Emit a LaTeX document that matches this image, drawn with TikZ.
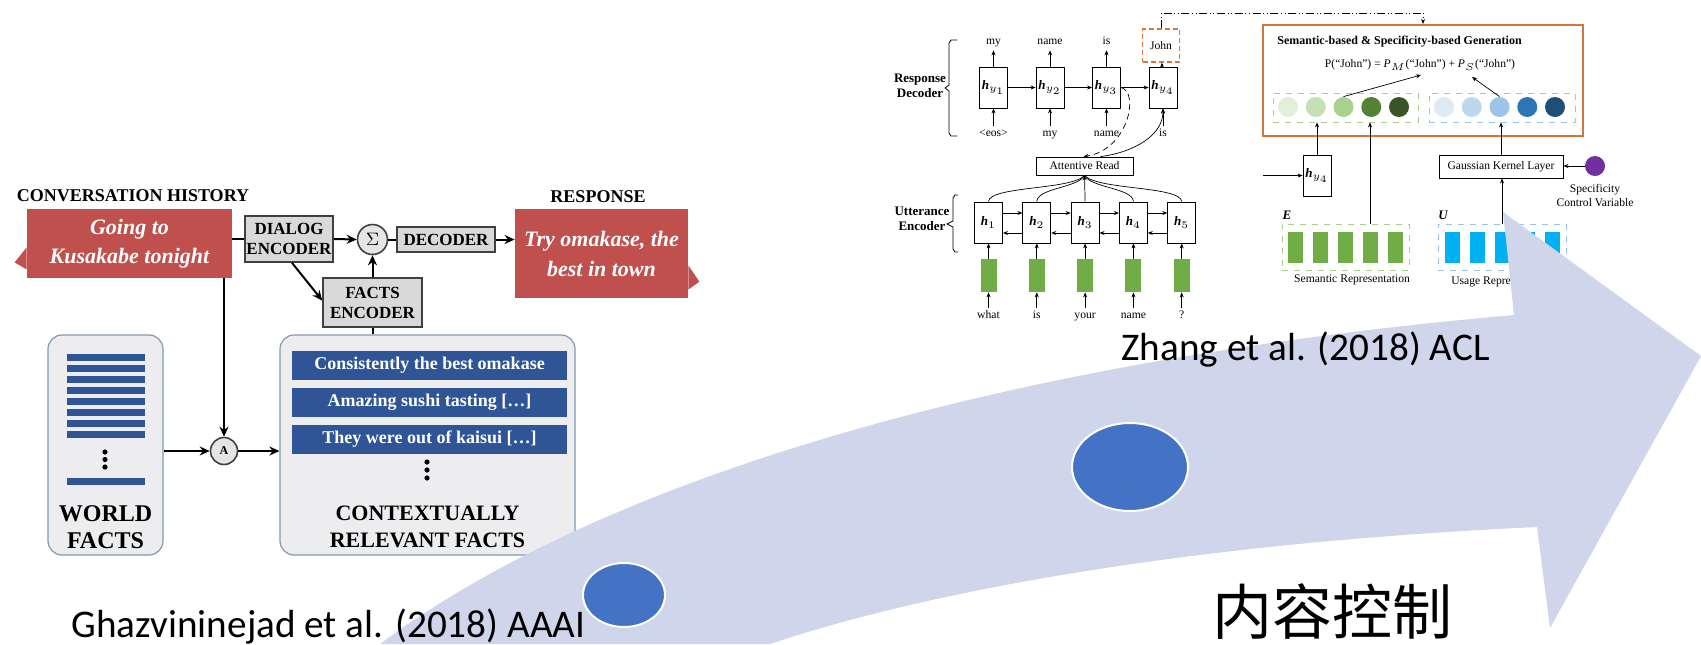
\documentclass[tikz,border=0pt]{standalone}
\usepackage{fontspec}
\setmainfont{Liberation Serif}
\newfontfamily\cjkfont{Noto Sans CJK SC}
\newfontfamily\slidefont{Carlito}
\usetikzlibrary{positioning}
\usetikzlibrary{arrows.meta}
\usetikzlibrary{calc}
\usetikzlibrary{shapes.geometric}

\definecolor{calloutred}{RGB}{192,80,77}
\definecolor{factblue}{RGB}{47,85,151}
\definecolor{panelgray}{RGB}{237,237,240}
\definecolor{panelline}{RGB}{132,151,176}
\definecolor{genorange}{RGB}{210,120,60}
\definecolor{embgreen}{RGB}{112,173,71}
\definecolor{embblue}{RGB}{0,176,240}
\definecolor{arrowlav}{RGB}{207,213,234}
\definecolor{dotblue}{RGB}{68,114,196}
\definecolor{ctrlpurple}{RGB}{112,48,160}
\definecolor{gA}{RGB}{226,239,218}
\definecolor{gB}{RGB}{197,224,180}
\definecolor{gC}{RGB}{169,209,142}
\definecolor{gD}{RGB}{84,130,53}
\definecolor{gE}{RGB}{55,86,35}
\definecolor{bA}{RGB}{222,235,247}
\definecolor{bB}{RGB}{189,215,238}
\definecolor{bC}{RGB}{157,195,230}
\definecolor{bD}{RGB}{46,117,182}
\definecolor{bE}{RGB}{31,78,121}

\begin{document}
\begin{tikzpicture}
  [x=0.5pt, y=-0.5pt,
   every node/.style={inner sep=0pt},
   head/.style={font=\bfseries\fontsize{9}{10}\selectfont},
   callout/.style={fill=calloutred,text=white,align=center},
   grayblock/.style={draw=black!75,line width=0.8pt,fill=black!15,align=center,
                     font=\bfseries\fontsize{8.5}{10}\selectfont},
   opcirc/.style={circle,draw=black!75,line width=0.8pt,fill=black!10,minimum size=15pt},
   panel/.style={draw=panelline,fill=panelgray,rounded corners=7pt,line width=0.6pt},
   factbar/.style={fill=factblue,text=white,font=\bfseries\fontsize{9}{10}\selectfont,
                   minimum width=137.5pt,minimum height=14.5pt},
   wbar/.style={fill=factblue,minimum width=39pt,minimum height=3.5pt},
   flow/.style={line width=1pt,-{Stealth[length=5pt,width=4.5pt]}},
   link/.style={line width=1pt},
   wordlbl/.style={font=\fontsize{5.8}{6.8}\selectfont},
   tok/.style={wordlbl,text height=4.2pt,text depth=1.3pt,inner sep=1.2pt},
   cell/.style={draw,line width=0.4pt,minimum width=14pt,minimum height=20.5pt,
                font=\fontsize{6.5}{7}\selectfont},
   wire/.style={line width=0.35pt,-{Stealth[length=2.5pt,width=2pt]}},
   feed/.style={line width=0.35pt},
   slide/.style={font=\slidefont\fontsize{19.6}{24}\selectfont}]

  \useasboundingbox (0,0) rectangle (1701,644);

  % ---- Ghazvininejad et al.
  \node[head] (histhead) at (133,196) {CONVERSATION HISTORY};
  \node[callout,minimum width=102.5pt,minimum height=34.5pt,
        font=\bfseries\itshape\fontsize{11}{14.5}\selectfont] (convo) at (129.5,243.5)
        {Going to\\Kusakabe tonight};
  \fill[calloutred] ($(convo.south west)+(0,-31)$) -- ($(convo.south west)+(-12,-16)$)
        -- ($(convo.south west)+(0,-9)$) -- cycle;
  \node[grayblock,minimum width=44pt,minimum height=23pt] (dialogenc) at (289,239)
        {DIALOG\\ENCODER};
  \node[opcirc,font=\fontsize{9}{9}\selectfont] (sigma) at (372.5,239.5) {$\Sigma$};
  \node[grayblock,minimum width=49pt,minimum height=12.5pt] (decoder) at (446,239.5) {DECODER};
  \node[head] (resphead) at (598,197) {RESPONSE};
  \node[callout,minimum width=86.5pt,minimum height=44.5pt,
        font=\bfseries\itshape\fontsize{11}{15}\selectfont] (response) at (601.5,253.5)
        {Try omakase, the\\best in town};
  \fill[calloutred] ($(response.north east)+(0,57)$) -- ($(response.north east)+(11,73)$)
        -- ($(response.north east)+(0,81)$) -- cycle;
  \node[grayblock,minimum width=49.5pt,minimum height=24.5pt] (factsenc) at (372.5,302.5)
        {FACTS\\ENCODER};

  \node[panel,minimum width=57.5pt,minimum height=110pt] (world) at (105.5,445) {};
  \node[panel,minimum width=147.5pt,minimum height=110pt] (context) at (427.5,445) {};
  \foreach \i in {0,...,7}
    \node[wbar] (wb\i) at (106,357.5+11*\i) {};
  \node[wbar] (wblast) at (106,481) {};
  \foreach \j in {0,1,2} {
    \fill (105,452+7.5*\j) circle (1.3pt);
    \fill (427,462+8*\j) circle (1.3pt);
  }
  \node[font=\bfseries\fontsize{12}{13.5}\selectfont,align=center] (worldlbl) at (105.5,527)
        {WORLD\\FACTS};
  \node[factbar] (fact1) at (429.5,365.5) {Consistently the best omakase};
  \node[factbar] (fact2) at (429.5,402) {Amazing sushi tasting [\dots]};
  \node[factbar] (fact3) at (429.5,439) {They were out of kaisui [\dots]};
  \node[font=\bfseries\fontsize{11}{13.5}\selectfont,align=center] (ctxlbl) at (427.5,527)
        {CONTEXTUALLY\\RELEVANT FACTS};
  \node[opcirc,minimum size=13.5pt,font=\bfseries\fontsize{6}{6}\selectfont] (acirc) at (224,451) {A};

  \draw[link] (convo.east |- dialogenc.west) -- (dialogenc.west);
  \draw[flow] (convo.south -| acirc.north) -- (acirc.north);
  \draw[flow] (dialogenc.east) -- (sigma.west);
  \draw[link] (sigma) -- (decoder);
  \draw[flow] (decoder.east) -- (decoder.east -| response.west);
  \draw[flow] ($(dialogenc.south)+(3,0)$) -- ($(factsenc.west)+(0,-2)$);
  \draw[flow] (factsenc) -- (sigma);
  \draw[link] (factsenc.south) -- (factsenc.south |- context.north);
  \draw[flow] (world.east |- acirc) -- (acirc.west);
  \draw[flow] (acirc.east) -- (acirc.east -| context.west);

  % ---- Zhang et al.: encoder / decoder
  \node[font=\bfseries\fontsize{6.5}{7.5}\selectfont,align=center] (declbl) at (920,85.5)
        {Response\\Decoder};
  \node[font=\bfseries\fontsize{6.5}{7.5}\selectfont,align=center] (enclbl) at (922,218.5)
        {Utterance\\Encoder};
  \draw[line width=0.4pt] (957,40) -- (951,40) -- (949,43) -- (949,85) -- (945,88)
        -- (949,91) -- (949,133) -- (951,136) -- (957,136);
  \draw[line width=0.4pt] (958,195) -- (955,195) -- (953,198) -- (953,221) -- (947,224)
        -- (953,227) -- (953,249) -- (955,252) -- (958,252);

  \foreach \i/\dn in {1/{\textless eos\textgreater},2/my,3/name,4/is} {
    \node[cell] (hy\i) at ({993.5+56.5*(\i-1)},87.5) {\textbf{\textit{h}}$_{y_{\i}}$};
    \node[tok] (in\i) at ({993.5+56.5*(\i-1)},134) {\dn};
    \draw[wire] (in\i) -- (hy\i);
  }
  \foreach \i/\up in {1/my,2/name,3/is} {
    \node[tok] (out\i) at ({993.5+56.5*(\i-1)},42) {\up};
    \draw[wire] (hy\i) -- (out\i);
  }
  \node[draw=genorange,dash pattern=on 2.5pt off 1.5pt,line width=0.7pt,minimum width=18.5pt,
        minimum height=16.5pt,wordlbl] (john) at (1161,45.5) {John};
  \draw[wire] (hy4) -- (john);
  \foreach \i/\j in {1/2,2/3,3/4}
    \draw[wire] (hy\i) -- (hy\j);

  \node[draw,line width=0.4pt,minimum width=48.5pt,minimum height=9pt,wordlbl] (attread)
        at (1084.5,166) {Attentive Read};
  \draw[wire,densely dashed] (hy3.east) .. controls (1140,92) and (1128,150)
        .. ($(attread.north)+(-1,0)$);
  \draw[wire] ($(attread.north)+(16,0)$) .. controls (1135,152) and (1163,135) .. (hy4.south);

  \foreach \i/\w in {1/what,2/is,3/your,4/name,5/?} {
    \node[cell] (h\i) at ({988.5+48.3*(\i-1)},222.5) {\textbf{\textit{h}}$_{\i}$};
    \node[fill=embgreen,minimum width=8pt,minimum height=16.5pt] (x\i)
          at ({988.5+48.3*(\i-1)},275.5) {};
    \node[tok] (w\i) at ({988.5+48.3*(\i-1)},316) {\w};
    \draw[wire] (w\i) -- (x\i);
    \draw[wire] (x\i) -- (h\i);
  }
  \foreach \i/\j in {1/2,2/3,3/4,4/5} {
    \draw[wire] ([yshift=4.75pt]h\i.east) -- ([yshift=4.75pt]h\j.west);
    \draw[wire] ([yshift=-5.25pt]h\j.west) -- ([yshift=-5.25pt]h\i.east);
  }
  \draw[feed] (h1.north) .. controls (989,186) and (1072,190) .. (attread.south);
  \draw[feed] (h2.north) .. controls (1037,188) and (1078,188) .. (attread.south);
  \draw[wire] (h3.north) -- (attread.south);
  \draw[feed] (h4.north) .. controls (1133,188) and (1091,188) .. (attread.south);
  \draw[feed] (h5.north) .. controls (1181,186) and (1097,190) .. (attread.south);

  % ---- Zhang et al.: generation
  \node[draw=genorange,line width=1pt,minimum width=160pt,minimum height=55.5pt] (gen)
        at (1423,80.5) {};
  \node[anchor=west,font=\bfseries\fontsize{6}{7}\selectfont] (gentitle) at (1277,42)
        {Semantic-based \& Specificity-based Generation};
  \node[wordlbl] (formula) at (1420,65)
        {P(“John”) = \textit{P}$_{M}$(“John”) + \textit{P}$_{S}$(“John”)};
  \node[draw=gC,dashed,line width=0.4pt,minimum width=72.5pt,minimum height=14.5pt] (semprob)
        at (1345.5,107.5) {};
  \node[draw=bC,dashed,line width=0.4pt,minimum width=73pt,minimum height=14.5pt] (spcprob)
        at (1502,107.5) {};
  \foreach \c [count=\k] in {gA,gB,gC,gD,gE}
    \node[circle,fill=\c,minimum size=10pt] (gc\k) at ({1288+27.75*(\k-1)},107) {};
  \foreach \c [count=\k] in {bA,bB,bC,bD,bE}
    \node[circle,fill=\c,minimum size=10pt] (bc\k) at ({1444+27.75*(\k-1)},107) {};
  \coordinate (pmpt) at (1421,75);
  \coordinate (pspt) at (1472,77);
  \draw[wire] (gc3.north) -- (pmpt);
  \draw[wire] (bc3.north) -- (pspt);
  \coordinate (relay) at (1423,13);
  \draw[line width=0.5pt,dash pattern=on 4pt off 1.3pt on 0.5pt off 1.3pt on 0.5pt off 1.3pt,
        -{Stealth[length=2.5pt,width=2pt]}]
        (john.north) |- (relay) -- (gen.north);

  \node[cell] (hyb) at (1317,175.5) {\textbf{\textit{h}}$_{y_4}$};
  \coordinate (hybin) at (1263,175.5);
  \draw[wire] (hybin) -- (hyb);
  \draw[wire] (hyb) -- (hyb |- semprob.south);

  \node[draw=gC,dashed,line width=0.4pt,minimum width=63.5pt,minimum height=23pt] (ebox)
        at (1345.5,247) {};
  \foreach \k in {1,...,5}
    \node[fill=embgreen,minimum width=7.5pt,minimum height=15.5pt] (eb\k)
          at ({1295.5+25*(\k-1)},247.5) {};
  \node[font=\bfseries\itshape\fontsize{6.5}{7}\selectfont] (elbl) at (1287,215) {E};
  \node[wordlbl] (semlbl) at (1352,280) {Semantic Representation};
  \draw[wire] ([xshift=12.25pt]ebox.north) -- ([xshift=12.25pt]ebox.north |- semprob.south);

  \node[draw=bC,dashed,line width=0.4pt,minimum width=64pt,minimum height=23pt] (ubox)
        at (1502,247) {};
  \foreach \k in {1,...,5}
    \node[fill=embblue,minimum width=7.5pt,minimum height=15.5pt] (ub\k)
          at ({1452+25*(\k-1)},247.5) {};
  \node[font=\bfseries\itshape\fontsize{6.5}{7}\selectfont] (ulbl) at (1443,215) {U};
  \node[wordlbl] (usglbl) at (1502,282) {Usage Representation};

  \node[draw,line width=0.4pt,minimum width=62pt,minimum height=11.5pt,wordlbl] (gauss)
        at (1501,166.5) {Gaussian Kernel Layer};
  \draw[wire] (ubox.north) -- (ubox.north |- gauss.south);
  \draw[wire] (gauss.north) -- (gauss.north |- spcprob.south);
  \node[circle,fill=ctrlpurple,minimum size=10pt] (ctrl) at (1595,166) {};
  \draw[wire] (ctrl) -- (gauss.east |- ctrl);
  \node[wordlbl,align=center] (ctrllbl) at (1595,195.5) {Specificity\\Control Variable};

  % ---- timeline arrow
  \fill[arrowlav] (380,644) .. controls (600,480) and (1000,360) .. (1514,315)
        -- (1503,212) -- (1701,356) -- (1550,628) -- (1537,527)
        .. controls (1150,545) and (900,600) .. (770,644) -- cycle;

  \node[ellipse,fill=dotblue,draw=white,line width=1pt,minimum width=41pt,minimum height=32pt]
        (stage1) at (624,595) {};
  \node[ellipse,fill=dotblue,draw=white,line width=1pt,minimum width=58pt,minimum height=44pt]
        (stage2) at (1130,467) {};

  \node[slide,anchor=base west] (cite1) at (71,637) {Ghazvininejad et al. (2018) AAAI};
  \node[slide,anchor=base west] (cite2) at (1121,360) {Zhang et al. (2018) ACL};
  \node[font=\cjkfont\fontsize{30}{36}\selectfont] (topic) at (1332,612) {内容控制};
\end{tikzpicture}
\end{document}
